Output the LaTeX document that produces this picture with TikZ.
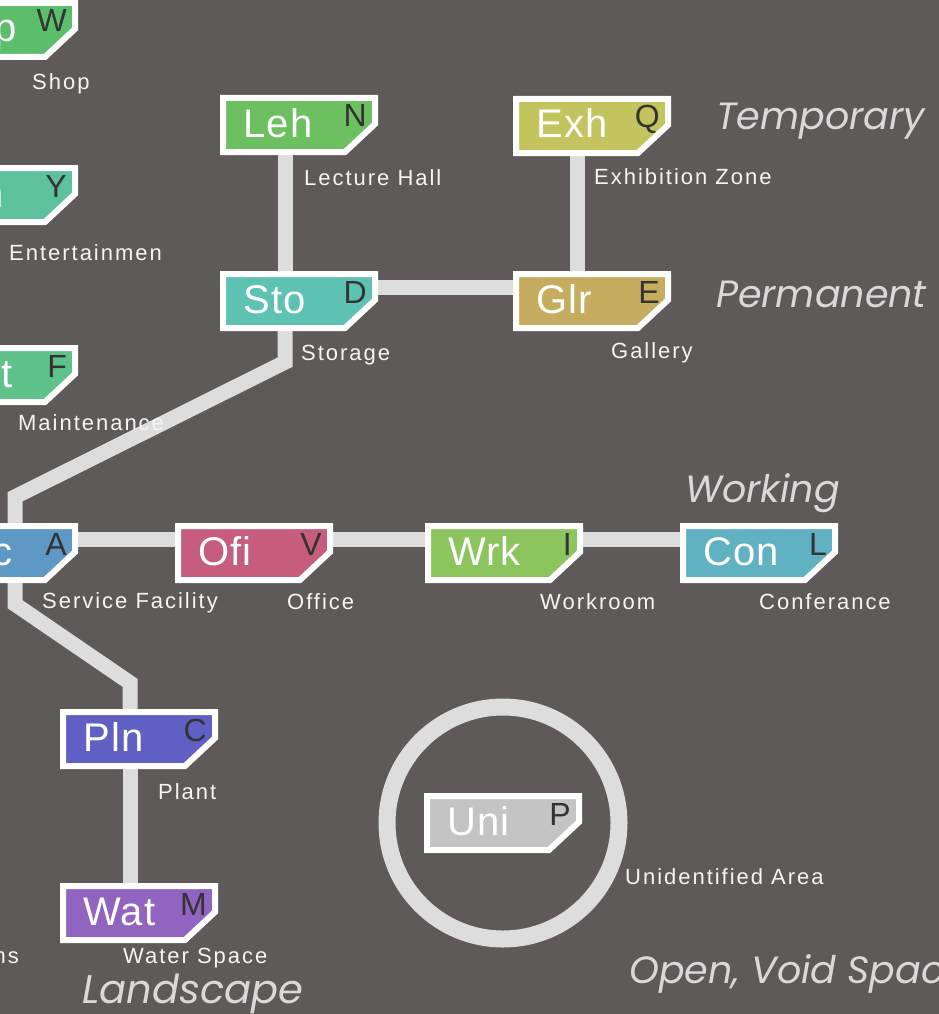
\documentclass[tikz,border=0pt]{standalone}
\usepackage{fontspec}
\setmainfont{Liberation Sans}
\newfontfamily\grpfont{Poppins}
\usepackage{xcolor}
\usepackage{tikz}
\usetikzlibrary{positioning}
\definecolor{mapbg}{RGB}{94,90,89}
\definecolor{mapline}{RGB}{221,221,221}
\definecolor{mapgroup}{RGB}{217,217,217}
\definecolor{mapcode}{RGB}{51,51,51}
\definecolor{shpgreen}{RGB}{92,190,106}
\definecolor{entgreen}{RGB}{94,193,158}
\definecolor{mntgreen}{RGB}{94,194,138}
\definecolor{lehgreen}{RGB}{108,192,96}
\definecolor{exholive}{RGB}{196,196,94}
\definecolor{stoteal}{RGB}{94,194,178}
\definecolor{glrgold}{RGB}{198,172,94}
\definecolor{svcblue}{RGB}{94,152,196}
\definecolor{ofipink}{RGB}{198,92,126}
\definecolor{wrklime}{RGB}{140,196,94}
\definecolor{concyan}{RGB}{96,178,194}
\definecolor{plnblue}{RGB}{96,96,196}
\definecolor{watpurple}{RGB}{144,100,192}
\definecolor{unigray}{RGB}{196,196,196}

% #1 place, #2 short name, #3 code letter, #4 fill
\newcommand{\zonebox}[4]{%
  \fill[#4, draw=white, line width=6pt, line join=miter]
    ([shift={(-76,-27)}]#1.center) -- ++(152,0) -- ++(0,26) -- ++(-30,28) -- ++(-122,0) -- cycle;
  \node[boxname] (#1-name) at ([shift={(-56,12)}]#1.center) {#2};
  \node[boxcode] (#1-code) at ([shift={(68,2)}]#1.center) {#3};
}

\begin{document}
\begin{tikzpicture}[x=1pt, y=-1pt,
    slot/.style={rectangle, minimum width=158pt, minimum height=60pt, inner sep=0pt},
    link/.style={draw=mapline, line width=15pt, line join=miter},
    boxname/.style={anchor=base west, inner sep=0pt, text=white, font=\fontsize{40}{40}\selectfont\addfontfeatures{LetterSpace=3}},
    boxcode/.style={anchor=base east, inner sep=0pt, text=mapcode, font=\fontsize{32}{32}\selectfont},
    sublabel/.style={anchor=base west, inner sep=0pt, text=white!94!mapbg, font=\fontsize{22}{22}\selectfont\addfontfeatures{LetterSpace=9}},
    grouplabel/.style={anchor=base west, inner sep=0pt, text=mapgroup, font=\grpfont\itshape\fontsize{38}{38}\selectfont}]
    \useasboundingbox (0,0) rectangle (939,1014);
    \fill[mapbg] (0,0) rectangle (939,1014);
    \clip (0,0) rectangle (939,1014);

    \node[slot] (shp) at (-1,30) {};
    \node[slot] (ent) at (-1,195) {};
    \node[slot] (mnt) at (-1,375) {};
    \node[slot] (svc) at (-1,553) {};
    \node[slot] (leh) at (299,125) {};
    \node[slot] (exh) at (592,126) {};
    \node[slot] (sto) at (299,301) {};
    \node[slot] (glr) at (592,301) {};
    \node[slot] (ofi) at (254,553) {};
    \node[slot] (wrk) at (504,553) {};
    \node[slot] (con) at (759,553) {};
    \node[slot] (pln) at (139,739) {};
    \node[slot] (wat) at (139,913) {};
    \node[slot] (uni) at (503,823) {};

    % lines between the zones
    \draw[link] ([xshift=-14pt]leh.south) -- ([xshift=-14pt]sto.north);
    \draw[link] ([xshift=-15pt]exh.south) -- ([xshift=-15pt]glr.north);
    \draw[link] ([shift={(0,-14)}]sto.east) -- ([shift={(0,-14)}]glr.west);
    \draw[link] ([xshift=-14pt]sto.south) -- ++(0,31) -- ([shift={(16,-26)}]svc.north) -- ([xshift=16pt]svc.north);
    \draw[link] ([shift={(0,-14)}]svc.east) -- ([shift={(0,-14)}]ofi.west);
    \draw[link] ([shift={(0,-14)}]ofi.east) -- ([shift={(0,-14)}]wrk.west);
    \draw[link] ([shift={(0,-14)}]wrk.east) -- ([shift={(0,-14)}]con.west);
    \draw[link] ([xshift=16pt]svc.south) -- ++(0,21) -- ([shift={(-9,-26)}]pln.north) -- ([xshift=-9pt]pln.north);
    \draw[link] ([xshift=-9pt]pln.south) -- ([xshift=-9pt]wat.north);
    \node[circle, draw=mapline, line width=17pt, minimum size=232pt, inner sep=0pt] (voidring) at (uni) {};

    \zonebox{shp}{}{W}{shpgreen}
    \zonebox{ent}{}{Y}{entgreen}
    \zonebox{mnt}{}{F}{mntgreen}
    \zonebox{svc}{}{A}{svcblue}
    \zonebox{leh}{Leh}{N}{lehgreen}
    \zonebox{exh}{Exh}{Q}{exholive}
    \zonebox{sto}{Sto}{D}{stoteal}
    \zonebox{glr}{Glr}{E}{glrgold}
    \zonebox{ofi}{Ofi}{V}{ofipink}
    \zonebox{wrk}{Wrk}{I}{wrklime}
    \zonebox{con}{Con}{L}{concyan}
    \zonebox{pln}{Pln}{C}{plnblue}
    \zonebox{wat}{Wat}{M}{watpurple}
    \zonebox{uni}{Uni}{P}{unigray}
    \node[boxname, anchor=base east] (shp-cut) at ([shift={(18,12)}]shp.center) {p};
    \node[boxname, anchor=base east] (ent-cut) at ([shift={(5,12)}]ent.center) {n};
    \node[boxname, anchor=base east] (mnt-cut) at ([shift={(14,12)}]mnt.center) {t};
    \node[boxname, anchor=base east] (svc-cut) at ([shift={(14,12)}]svc.center) {c};

    \node[sublabel] (shp-lbl) at (32,90) {Shop};
    \node[sublabel] (ent-lbl) at (9,260) {Entertainmen};
    \node[sublabel] (mnt-lbl) at (18,430) {Maintenance};
    \node[sublabel] (leh-lbl) at (304,185) {Lecture Hall};
    \node[sublabel] (exh-lbl) at (594,184) {Exhibition Zone};
    \node[sublabel] (sto-lbl) at (301,360) {Storage};
    \node[sublabel] (glr-lbl) at (611,358) {Gallery};
    \node[sublabel] (svc-lbl) at (42,608) {Service Facility};
    \node[sublabel] (ofi-lbl) at (287,609) {Office};
    \node[sublabel] (wrk-lbl) at (540,609) {Workroom};
    \node[sublabel] (con-lbl) at (759,609) {Conferance};
    \node[sublabel] (pln-lbl) at (158,799) {Plant};
    \node[sublabel] (wat-lbl) at (123,963) {Water Space};
    \node[sublabel, anchor=base east] (gdn-lbl) at (19,963) {ns};
    \node[sublabel] (uni-lbl) at (625,884) {Unidentified Area};

    \node[grouplabel] (temp-grp) at (716,130) {Temporary};
    \node[grouplabel] (perm-grp) at (716,307) {Permanent};
    \node[grouplabel] (work-grp) at (685,502) {Working};
    \node[grouplabel, font=\grpfont\itshape\fontsize{40}{40}\selectfont] (land-grp) at (82,1003) {Landscape};
    \node[grouplabel] (void-grp) at (629,983) {Open, Void Space};
\end{tikzpicture}
\end{document}
